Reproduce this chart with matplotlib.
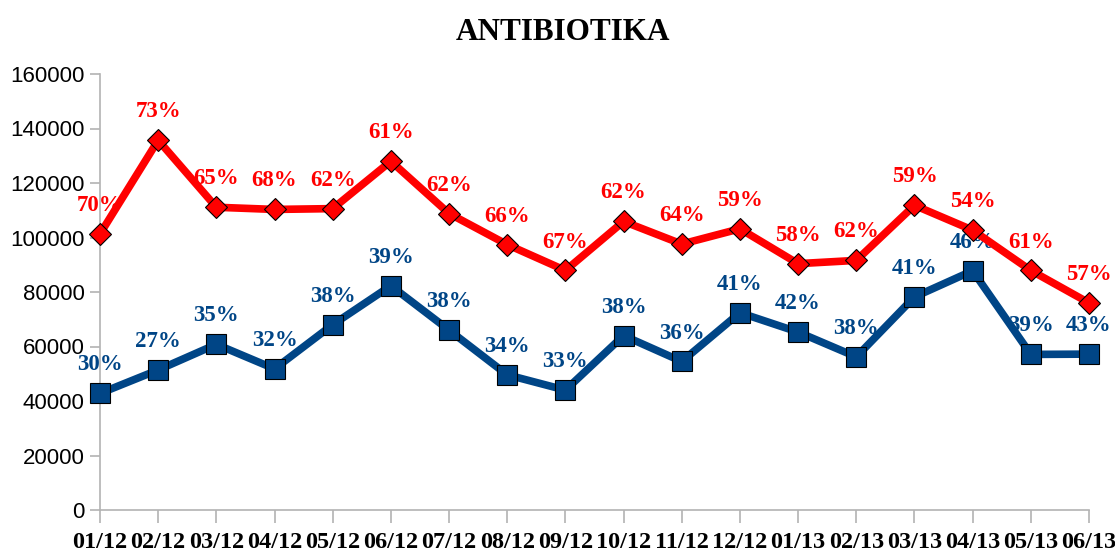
import matplotlib
matplotlib.use("Agg")
import matplotlib.pyplot as plt

months = ["01/12", "02/12", "03/12", "04/12", "05/12", "06/12", "07/12", "08/12", "09/12",
          "10/12", "11/12", "12/12", "01/13", "02/13", "03/13", "04/13", "05/13", "06/13"]

red_values = [101300, 135700, 111100, 110300, 110600, 128000, 108800, 97400, 87900,
              105900, 97600, 103200, 90400, 91600, 111800, 102700, 87900, 76000]
red_pct = [70, 73, 65, 68, 62, 61, 62, 66, 67, 62, 64, 59, 58, 62, 59, 54, 61, 57]

blue_values = [42800, 51400, 60800, 51800, 68000, 82300, 66000, 49600, 44000,
               64000, 54500, 72400, 65300, 56200, 78200, 87800, 57100, 57200]
blue_pct = [30, 27, 35, 32, 38, 39, 38, 34, 33, 38, 36, 41, 42, 38, 41, 46, 39, 43]

y_ticks = [0, 20000, 40000, 60000, 80000, 100000, 120000, 140000, 160000]

RED = "#ff0000"
BLUE = "#004586"
GRAY = "#b3b3b3"
SERIF = ["Liberation Serif", "DejaVu Serif"]
SANS = ["Liberation Sans", "DejaVu Sans"]

fig = plt.figure(figsize=(11.15, 5.54), dpi=100)
ax = fig.add_axes([100 / 1115, 1 - 510 / 554, (1089 - 100) / 1115, (510 - 74) / 554])

x = list(range(len(months)))

ax.plot(x, red_values, color=RED, lw=5.5, marker="D", ms=11, mfc=RED, mec="black",
        mew=0.8, zorder=3, clip_on=False)
ax.plot(x, blue_values, color=BLUE, lw=5.5, marker="s", ms=14.5, mfc=BLUE, mec="black",
        mew=0.8, zorder=3, clip_on=False)

for xi, v, p in zip(x, red_values, red_pct):
    ax.annotate(f"{p}%", (xi, v), xytext=(0, 20.5), textcoords="offset points",
                ha="center", va="center", color=RED, fontsize=16.5, fontweight="bold",
                family=SERIF, zorder=1, annotation_clip=False)
for xi, v, p in zip(x, blue_values, blue_pct):
    ax.annotate(f"{p}%", (xi, v), xytext=(0, 20.5), textcoords="offset points",
                ha="center", va="center", color=BLUE, fontsize=16.5, fontweight="bold",
                family=SERIF, zorder=1, annotation_clip=False)

ax.set_xlim(0, len(months) - 1)
ax.set_ylim(0, 160000)
ax.set_yticks(y_ticks)
ax.set_yticklabels([str(t) for t in y_ticks], family=SANS, fontsize=16)
ax.set_xticks(x)
ax.set_xticklabels(months, family=SERIF, fontsize=17.5, fontweight="bold")

for side in ("top", "right"):
    ax.spines[side].set_visible(False)
for side in ("left", "bottom"):
    ax.spines[side].set_color(GRAY)
    ax.spines[side].set_linewidth(1.2)
ax.tick_params(axis="y", length=7, width=1.2, color=GRAY, pad=4)
ax.tick_params(axis="x", length=9, width=1.2, color=GRAY, pad=7)

fig.text(0.5045, 1 - 33 / 554, "ANTIBIOTIKA", ha="center", va="center",
         fontsize=22.5, fontweight="bold", family=SERIF)

fig.savefig("out.png", dpi=100)
